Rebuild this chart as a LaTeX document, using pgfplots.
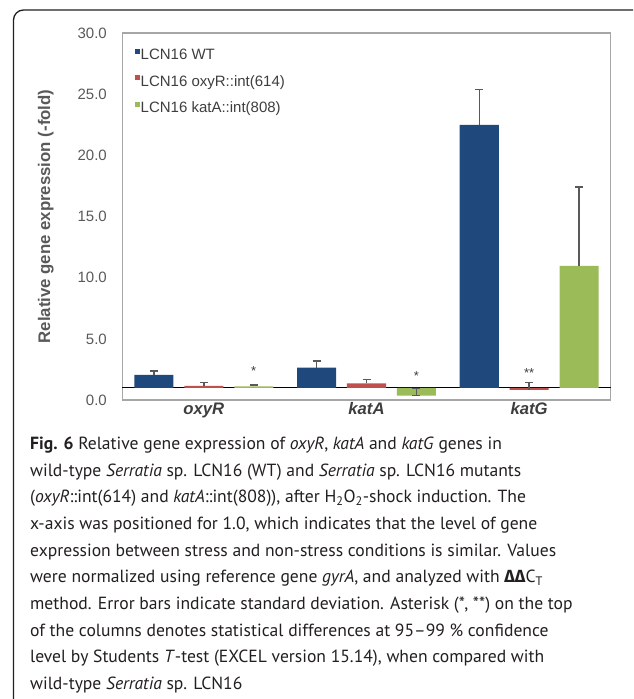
\documentclass[border=0pt]{standalone}
\usepackage{fontspec}
\setmainfont{Liberation Sans}
\newfontfamily\capfont{PT Sans}
\newfontfamily\grkfont{Fira Sans}
\usepackage{pgfplots}
\usepackage{pgfplotstable}
\pgfplotsset{compat=1.18}

\definecolor{wtblue}{HTML}{1F497D}
\definecolor{oxred}{HTML}{C0504D}
\definecolor{kagreen}{HTML}{9BBB59}
\definecolor{txtgray}{HTML}{595959}
\definecolor{framegray}{HTML}{A6A6A6}
\definecolor{capgray}{HTML}{231F20}

% fold change and upper error, x axis crosses at 1.0
\pgfplotstableread{
x wt    wterr ox   oxerr ka    kaerr
0 2.05  0.32  1.15 0.30  1.12  0.10
1 2.65  0.54  1.36 0.33  0.35  0.60
2 22.50 2.90  0.82 0.63  10.96 6.44
}\expr

\begin{document}
\begin{tikzpicture}
\useasboundingbox (0,0) rectangle (633pt,-699pt);
\begin{scope}
  \clip (0,0) rectangle (633pt,-699pt);
  \draw[line width=1.3pt, rounded corners=10pt, capgray] (13.5pt,-10pt) rectangle (660pt,-730pt);
\end{scope}

\begin{axis}[
  at={(122.5pt,-400pt)}, anchor=south west,
  scale only axis, width=488pt, height=367pt,
  ybar, bar width=0.24,
  xmin=-0.5, xmax=2.5, ymin=-1, ymax=29,
  xtick={0,1,2}, xticklabels={oxyR,katA,katG},
  ytick={-1,4,9,14,19,24,29},
  yticklabels={0.0,5.0,10.0,15.0,20.0,25.0,30.0},
  major tick length=0pt,
  axis line style={framegray, line width=1.2pt},
  yticklabel style={font=\fontsize{15}{18}\selectfont, text=txtgray, anchor=east, inner sep=0pt, xshift=-15.5pt},
  xticklabel style={font=\fontsize{16.7}{20}\selectfont\bfseries\itshape, text=txtgray!70!black, anchor=base, inner sep=0pt, yshift=-14pt},
  ylabel={Relative gene expression (-fold)},
  ylabel style={font=\fontsize{16.8}{20}\selectfont\bfseries, text=txtgray, at={(axis description cs:-0.157,0.5)}, anchor=center},
  extra y ticks={0}, extra y tick labels={},
  extra y tick style={grid=major, major grid style={black, line width=1.2pt}},
  error bars/y dir=plus, error bars/y explicit,
  error bars/error bar style={txtgray, line width=1.4pt},
  error bars/error mark options={rotate=90, txtgray, line width=1.4pt, mark size=4pt},
  legend style={at={(axis description cs:0,1)}, anchor=north west, xshift=12pt, yshift=-14.6pt,
    draw=none, fill=none, inner sep=0pt, row sep=10.5pt,
    font=\fontsize{15}{18}\selectfont, text=txtgray!70!black,
    nodes={inner xsep=1pt, inner ysep=1pt, text height=11pt, text depth=3pt}},
  legend cell align=left,
  legend image code/.code={\path[#1, draw=none] (0pt,1.9pt) rectangle (5pt,6.9pt);},
]
\addplot[fill=wtblue, draw=none, bar shift=-0.307]
  table[x=x, y expr=\thisrow{wt}-1, y error=wterr] {\expr};
\addplot[fill=oxred, draw=none, bar shift=0]
  table[x=x, y expr=\thisrow{ox}-1, y error=oxerr] {\expr};
\addplot[fill=kagreen, draw=none, bar shift=0.307]
  table[x=x, y expr=\thisrow{ka}-1, y error=kaerr] {\expr};
% cap at the lower end of the katA mutant bar
\addplot[fill=none, draw=none, bar shift=0.307, forget plot]
  coordinates {(1,-0.65) +- (0,0)};
\legend{LCN16 WT, LCN16 oxyR::int(614), LCN16 katA::int(808)}

\node[anchor=base, font=\fontsize{13}{15}\selectfont, text=txtgray!70!black] at (axis cs:0.307,1.0) {*};
\node[anchor=base, font=\fontsize{13}{15}\selectfont, text=txtgray!70!black] at (axis cs:1.307,0.62) {*};
\node[anchor=base, font=\fontsize{13}{15}\selectfont, text=txtgray!70!black] at (axis cs:2,0.84) {**};
\end{axis}

\begin{scope}[font=\capfont\fontsize{17.6}{20}\selectfont, every node/.style={anchor=base west, inner sep=0pt, text=capgray}]
\node at (30pt,-449.3pt) {\textbf{Fig. 6} Relative gene expression of \textit{oxyR}, \textit{katA} and \textit{katG} genes in};
\node at (30pt,-476.0pt) {wild-type \textit{Serratia} sp. LCN16 (WT) and \textit{Serratia} sp. LCN16 mutants};
\node at (30pt,-502.7pt) {(\textit{oxyR}::int(614) and \textit{katA}::int(808)), after H\textsubscript{2}O\textsubscript{2}-shock induction. The};
\node at (30pt,-529.4pt) {x-axis was positioned for 1.0, which indicates that the level of gene};
\node at (30pt,-556.1pt) {expression between stress and non-stress conditions is similar. Values};
\node at (30pt,-582.8pt) {were normalized using reference gene \textit{gyrA}, and analyzed with {\grkfont\bfseries ΔΔ}C\textsubscript{T}};
\node at (30pt,-609.5pt) {method. Error bars indicate standard deviation. Asterisk (*, **) on the top};
\node at (30pt,-636.2pt) {of the columns denotes statistical differences at 95–99 \% confidence};
\node at (30pt,-662.9pt) {level by Students \textit{T}-test (EXCEL version 15.14), when compared with};
\node at (30pt,-689.6pt) {wild-type \textit{Serratia} sp. LCN16};
\end{scope}
\end{tikzpicture}
\end{document}
